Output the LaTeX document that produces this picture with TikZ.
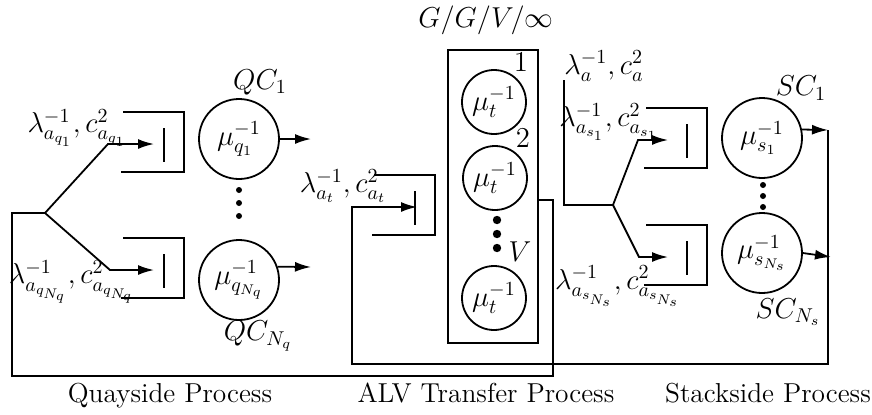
\documentclass[tikz,border=0pt]{standalone}
\usetikzlibrary{arrows.meta}
\tikzset{
  queue/.pic={
    \draw (-61,-30) -- (0,-30) -- (0,30) -- (-63,30);
    \draw (-20,-14) -- (-20,20);
    \coordinate (-in) at (#1,2);
  }
}
\begin{document}
\begin{tikzpicture}[x=0.5pt,y=-0.5pt, line width=0.9pt,
  every node/.style={font=\fontsize{14.4}{17}\selectfont, inner sep=0pt},
  proc/.style={anchor=base, font=\fontsize{13.7}{16}\selectfont},
  srv/.style={draw, circle, minimum size=40pt},
  alvsrv/.style={draw, circle, minimum size=32pt},
  arr/.style={-{Latex[length=8pt,width=5pt]}},
  dotq/.style={fill, circle, minimum size=3pt},
  dota/.style={fill, circle, minimum size=4.2pt},
  boxed/.style={draw, minimum width=45pt, minimum height=146.5pt}]
\useasboundingbox (0,0) rectangle (872,414);

% ---------- Quayside ----------
\pic (q1) at (184,142) {queue=-30};
\pic (qN) at (184,268) {queue=-30};
\node[srv] (qs1) at (239,139) {$\mu_{q_1}^{-1}$};
\node[srv] (qsN) at (239,280) {$\mu_{q_{N_q}}^{-1}$};
\node[dotq] (qd1) at (239,190) {};
\node[dotq] (qd2) at (239,203) {};
\node[dotq] (qd3) at (239,216) {};
\node (QC1) at (260,82) {$QC_1$};
\node (QCN) at (258,336) {$QC_{N_q}$};
\node (lq1) at (77,128) {$\lambda_{a_{q_1}}^{-1}, c_{a_{q_1}}^2$};
\node (lqN) at (72,282) {$\lambda_{a_{q_{N_q}}}^{-1}, c_{a_{q_{N_q}}}^2$};
\coordinate (qfork) at (45,213);
\coordinate (qb1) at (108,144);
\coordinate (qb2) at (110,270);
\draw[arr] (qfork) -- (qb1) -- (q1-in);
\draw[arr] (qfork) -- (qb2) -- (qN-in);
\coordinate (qo1) at (311,139);
\coordinate (qo2) at (311,267);
\draw[arr] (qs1.east) -- (qo1);
\draw[arr] (qsN.19) -- (qo2);

% ---------- ALV ----------
\node[boxed] (alv) at (493,196.5) {};
\node (ggv) at (486,20) {$G/G/V/\infty$};
\node[alvsrv] (a1) at (494,102) {$\mu_t^{-1}$};
\node[alvsrv] (a2) at (495,178) {$\mu_t^{-1}$};
\node[alvsrv] (a3) at (494,298) {$\mu_t^{-1}$};
\node[dota] (ad1) at (497,220) {};
\node[dota] (ad2) at (497,234) {};
\node[dota] (ad3) at (497,248) {};
\node (n1) at (521,62) {$1$};
\node (n2) at (523,138) {$2$};
\node (nV) at (520,252) {$V$};
\pic (aq) at (435,205) {queue=-18};
\node (lat) at (343,186) {$\lambda_{a_t}^{-1}, c_{a_t}^2$};

% loop ALV -> quayside
\coordinate (alvout) at (538,200);
\coordinate (lc1) at (553,376);
\coordinate (lc2) at (12,376);
\draw (alvout) -| (lc1) -- (lc2) |- (qfork);

% ---------- Stackside ----------
\pic (s1) at (707,138) {queue=-39};
\pic (sN) at (707,255) {queue=-39};
\node[srv] (ss1) at (762,138) {$\mu_{s_1}^{-1}$};
\node[srv] (ssN) at (762,253) {$\mu_{s_{N_s}}^{-1}$};
\node[dotq] (sd1) at (763,185) {};
\node[dotq] (sd2) at (763,196) {};
\node[dotq] (sd3) at (763,207) {};
\node (SC1) at (801,88) {$SC_1$};
\node (SCN) at (788,312) {$SC_{N_s}$};
\node (la) at (604,66) {$\lambda_{a}^{-1}, c_{a}^2$};
\node (ls1) at (609,122) {$\lambda_{a_{s_1}}^{-1}, c_{a_{s_1}}^2$};
\node (lsN) at (618,286) {$\lambda_{a_{s_{N_s}}}^{-1}, c_{a_{s_{N_s}}}^2$};
\coordinate (stop) at (564,80);
\coordinate (sfork) at (613,205);
\coordinate (sb1) at (638,140);
\coordinate (sb2) at (639,257);
\draw (stop) |- (sfork);
\draw[arr] (sfork) -- (sb1) -- (s1-in);
\draw[arr] (sfork) -- (sb2) -- (sN-in);
\coordinate (so1) at (828,130);
\coordinate (so2) at (831,257);
\draw[arr] (ss1.12) -- (so1);
\draw[arr] (ssN.east) -- (so2);

% loop stackside -> ALV
\coordinate (sc1) at (352,364);
\draw[arr] (so1) |- (sc1) |- (aq-in);

% ---------- Process labels ----------
\node[proc] (pq) at (170,402) {Quayside Process};
\node[proc] (pa) at (486,402) {ALV Transfer Process};
\node[proc] (ps) at (768,402) {Stackside Process};
\end{tikzpicture}
\end{document}
